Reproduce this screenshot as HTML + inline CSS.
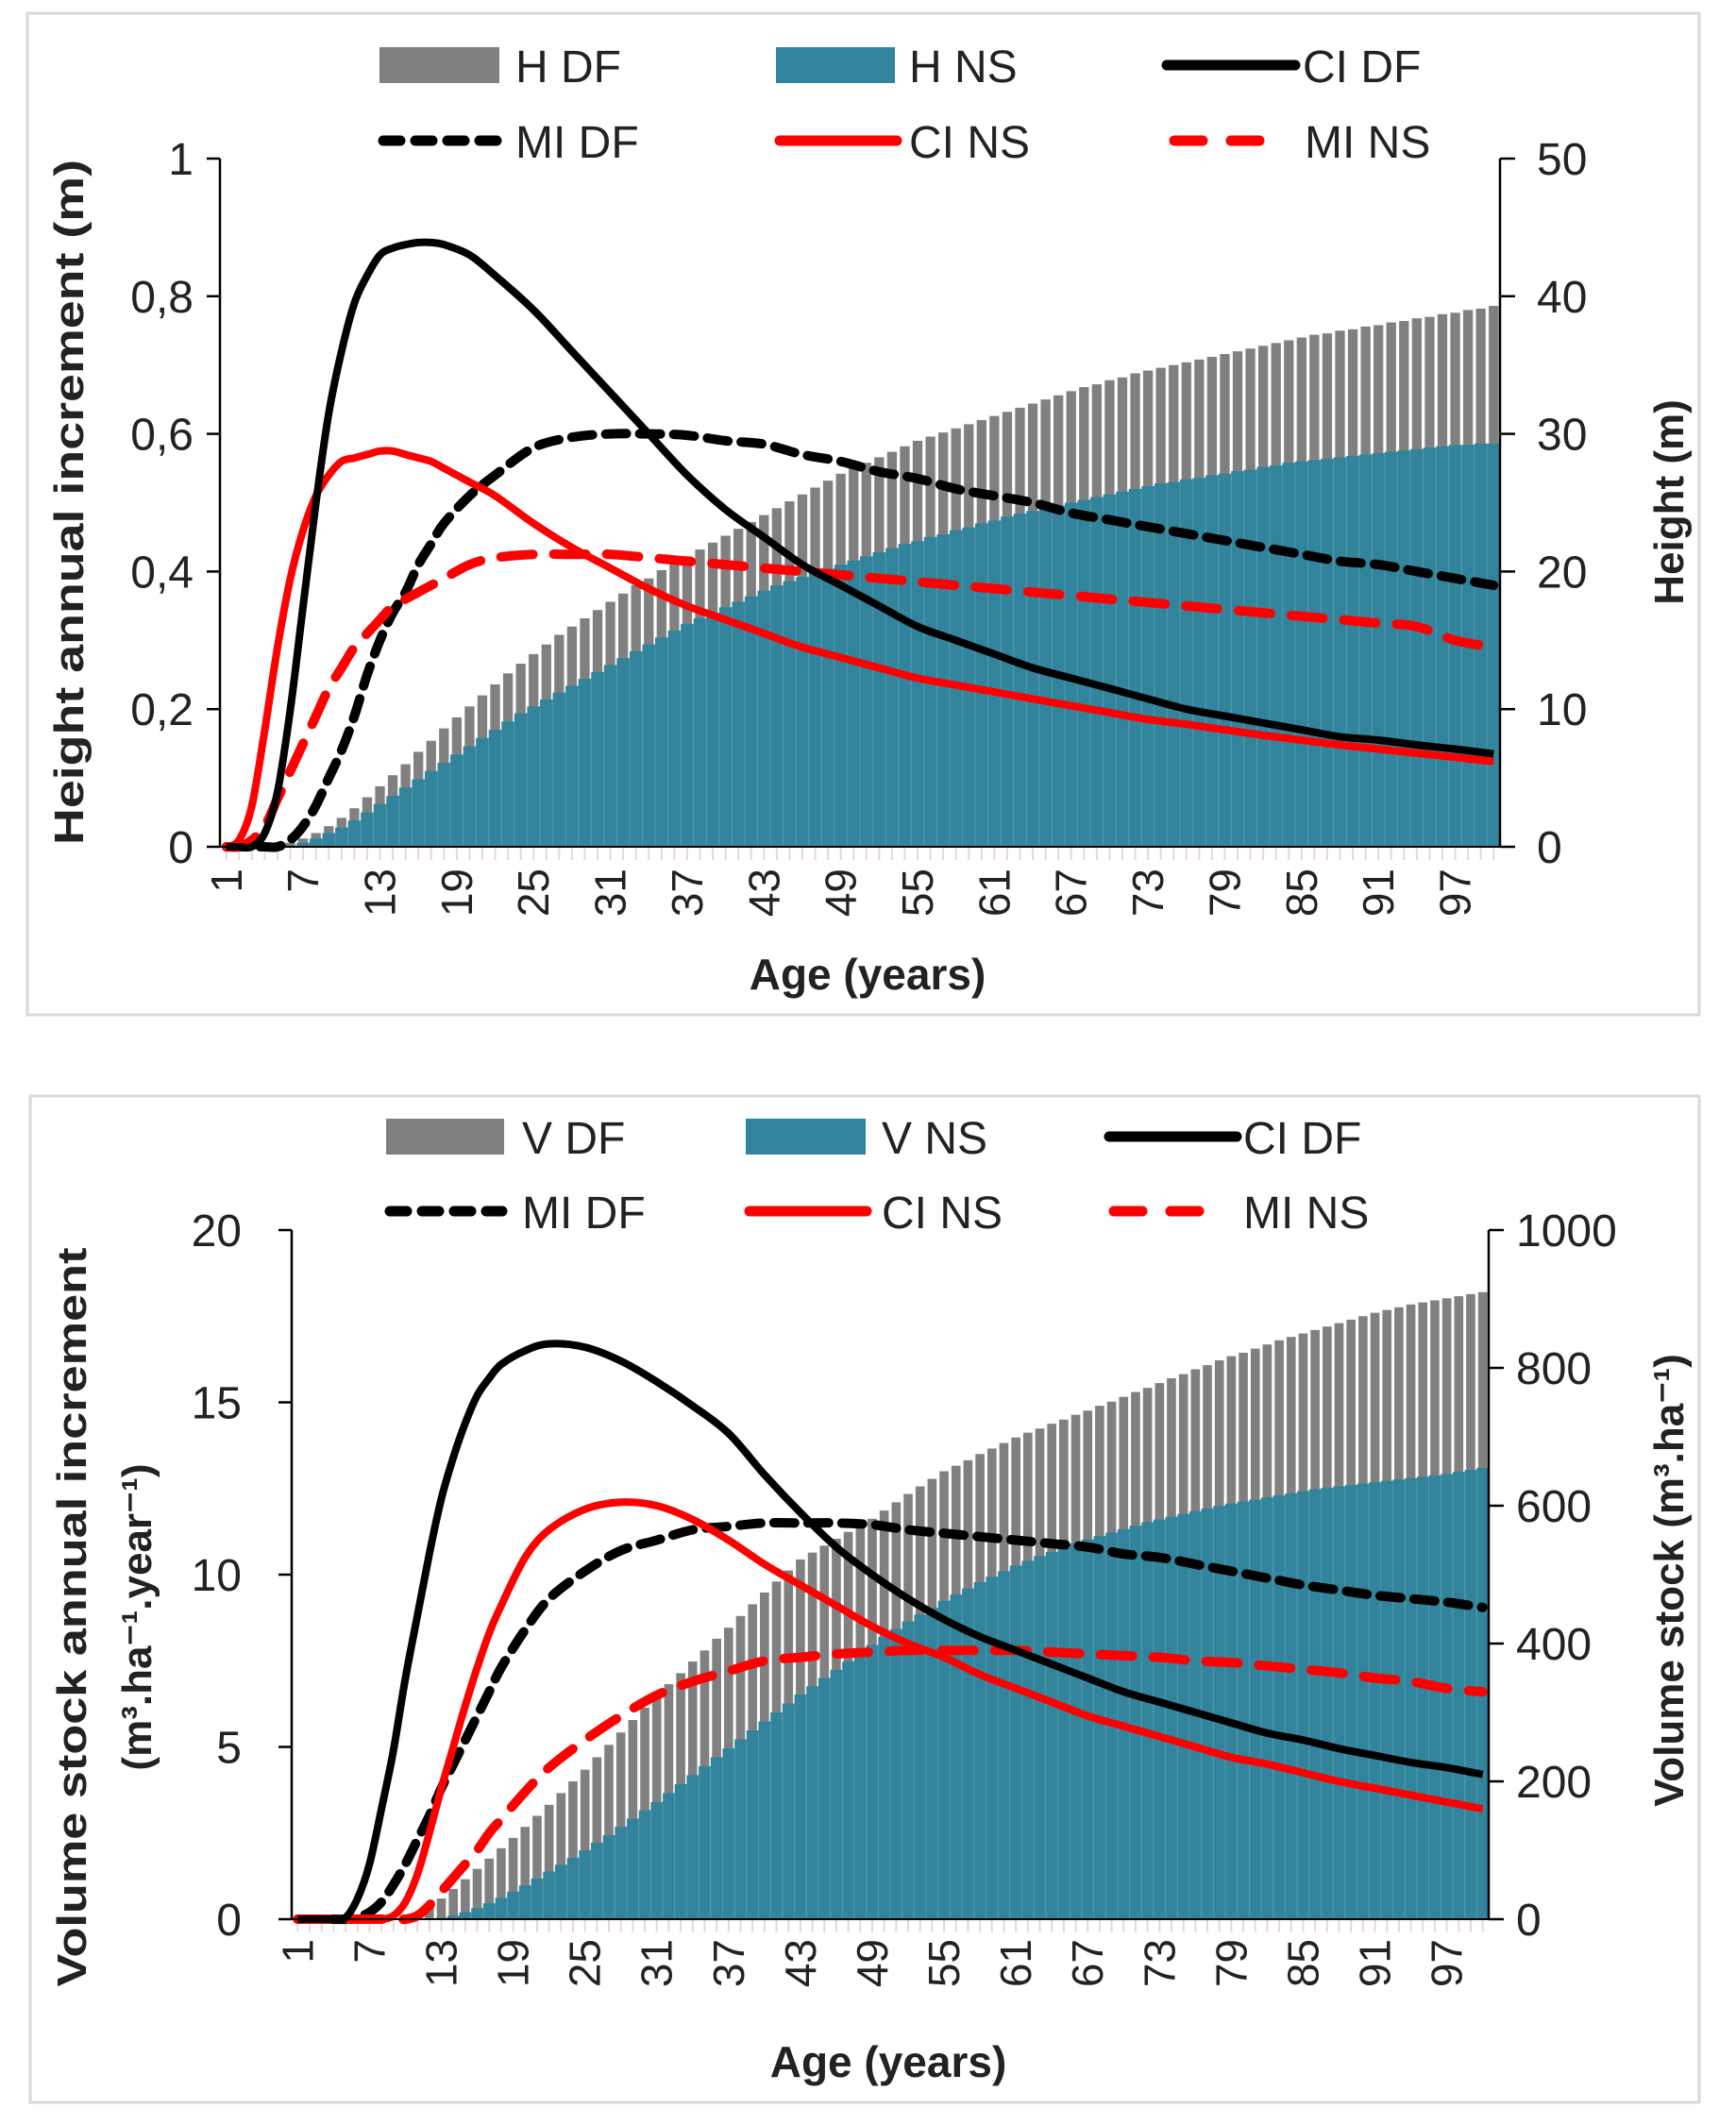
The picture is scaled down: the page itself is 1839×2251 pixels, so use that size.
<!DOCTYPE html>
<html><head><meta charset="utf-8"><style>
html,body{margin:0;padding:0;background:#fff;}
svg{display:block;font-family:"Liberation Sans",sans-serif;}
</style></head><body>
<svg id="fig" width="1839" height="2251" viewBox="0 0 1839 2251">
<rect x="29" y="14" width="1771" height="1061" fill="#fff" stroke="#d9d9d9" stroke-width="3"/>
<rect x="32" y="1161" width="1768" height="1066" fill="#fff" stroke="#d9d9d9" stroke-width="3"/>
<g id="topChart"></g>
<g id="botChart"></g>
</svg>
<script>
// ---------- TOP CHART DATA ----------
const hDF=[0,0,0,0,0.1,0.3,0.6,1.0,1.5,2.1,2.8,3.6,4.4,5.2,6.0,6.9,7.7,8.6,9.4,10.2,11.0,11.8,12.6,13.3,14.0,14.7,15.4,16.0,16.6,17.2,17.8,18.4,19.0,19.5,20.1,20.6,21.1,21.6,22.1,22.6,23.1,23.6,24.1,24.6,25.1,25.6,26.1,26.6,27.1,27.5,27.9,28.3,28.7,29.1,29.5,29.8,30.1,30.4,30.7,31.0,31.3,31.6,31.9,32.2,32.5,32.8,33.1,33.4,33.6,33.9,34.1,34.4,34.6,34.8,35.0,35.2,35.4,35.6,35.8,36.0,36.2,36.4,36.6,36.8,37.0,37.2,37.3,37.5,37.6,37.8,37.9,38.1,38.2,38.4,38.5,38.7,38.8,39.0,39.1,39.3];
const hNS=[0,0,0,0,0,0.1,0.3,0.6,1.0,1.4,1.9,2.5,3.1,3.7,4.3,4.9,5.5,6.1,6.7,7.3,7.9,8.5,9.1,9.7,10.2,10.7,11.2,11.7,12.2,12.7,13.2,13.7,14.2,14.7,15.2,15.7,16.2,16.6,17.0,17.4,17.8,18.2,18.6,19.0,19.3,19.6,19.9,20.2,20.5,20.8,21.1,21.4,21.7,22.0,22.2,22.5,22.7,23.0,23.2,23.5,23.7,24.0,24.2,24.4,24.6,24.8,25.0,25.2,25.4,25.6,25.8,26.0,26.2,26.4,26.5,26.7,26.8,27.0,27.1,27.3,27.4,27.6,27.7,27.9,28.0,28.1,28.2,28.3,28.4,28.5,28.6,28.7,28.8,28.9,29.0,29.1,29.2,29.2,29.3,29.3];
const lineAges=[1,2,3,4,5,6,7,8,9,10,11,12,13,14,15,16,17,18,20,22,25,28,31,34,37,40,43,46,49,52,55,58,61,64,67,70,73,76,79,82,85,88,91,94,97,100];
const ciDF_h=[0,0,0,0.02,0.08,0.2,0.35,0.5,0.63,0.72,0.79,0.83,0.86,0.87,0.875,0.878,0.878,0.875,0.86,0.83,0.78,0.72,0.66,0.6,0.54,0.49,0.45,0.41,0.38,0.35,0.32,0.3,0.28,0.26,0.245,0.23,0.215,0.2,0.19,0.18,0.17,0.16,0.155,0.148,0.142,0.135];
const miDF_h=[0,0,0,0,0,0.01,0.03,0.06,0.1,0.14,0.19,0.25,0.3,0.34,0.37,0.41,0.44,0.47,0.51,0.54,0.58,0.595,0.6,0.6,0.598,0.59,0.585,0.57,0.56,0.545,0.535,0.52,0.51,0.5,0.485,0.475,0.465,0.455,0.445,0.435,0.425,0.415,0.41,0.40,0.39,0.38];
const ciNS_h=[0,0.01,0.06,0.17,0.29,0.39,0.46,0.51,0.54,0.56,0.565,0.57,0.575,0.575,0.57,0.565,0.56,0.55,0.53,0.51,0.47,0.435,0.405,0.375,0.35,0.33,0.31,0.29,0.275,0.26,0.245,0.235,0.225,0.215,0.205,0.195,0.185,0.178,0.17,0.162,0.155,0.148,0.142,0.136,0.13,0.124];
const miNS_h=[0,0,0.01,0.03,0.07,0.11,0.15,0.19,0.23,0.26,0.29,0.31,0.33,0.35,0.36,0.37,0.38,0.39,0.41,0.42,0.425,0.425,0.425,0.42,0.415,0.41,0.405,0.40,0.395,0.39,0.385,0.38,0.375,0.37,0.365,0.36,0.355,0.35,0.345,0.34,0.335,0.33,0.325,0.32,0.30,0.29];
const topLeftTicks=["0","0,2","0,4","0,6","0,8","1"];
const topLeftVals=[0,0.2,0.4,0.6,0.8,1];
const topRightVals=[0,10,20,30,40,50];
// ---------- BOTTOM CHART DATA ----------
const vDF=[0,0,0,0,0,0,0,0,0,2,8,18,30,44,58,73,88,103,118,134,150,166,183,200,217,235,253,271,289,307,325,341,357,374,390,407,423,440,457,474,490,506,522,532,542,552,562,572,581,593,605,617,628,639,650,658,666,675,683,691,699,706,712,719,725,732,738,745,751,758,765,771,778,785,791,798,804,811,817,822,828,834,840,845,850,855,860,865,870,875,880,884,888,892,895,898,901,904,907,910];
const vNS=[0,0,0,0,0,0,0,0,0,0,0,0,2,5,10,16,23,31,40,49,59,69,79,89,100,111,122,134,146,158,170,183,196,209,222,235,248,261,274,287,300,313,326,338,350,362,374,386,398,410,421,432,442,452,462,471,480,489,497,505,513,520,527,533,539,545,551,556,561,566,571,576,580,584,588,592,596,600,603,606,609,612,615,618,621,624,626,628,630,632,634,636,638,640,642,644,646,649,652,655];
const ciDF_v=[0,0,0,0,0.05,0.6,1.6,3.2,4.9,7.0,8.8,10.6,12.2,13.4,14.4,15.2,15.7,16.1,16.5,16.7,16.6,16.2,15.6,14.9,14.1,12.9,11.8,10.8,10.0,9.3,8.7,8.2,7.8,7.4,7.0,6.6,6.3,6.0,5.7,5.4,5.2,4.95,4.75,4.55,4.4,4.2];
const miDF_v=[0,0,0,0,0,0.05,0.2,0.5,1.0,1.6,2.3,3.0,3.8,4.5,5.2,5.9,6.6,7.3,8.4,9.3,10.1,10.7,11.0,11.3,11.4,11.5,11.5,11.5,11.45,11.3,11.2,11.1,11.0,10.9,10.8,10.6,10.5,10.3,10.1,9.9,9.7,9.55,9.4,9.3,9.2,9.05];
const ciNS_v=[0,0,0,0,0,0,0,0,0.1,0.5,1.3,2.5,3.8,5.0,6.2,7.3,8.3,9.1,10.5,11.3,11.9,12.1,12.0,11.6,11.0,10.3,9.7,9.1,8.5,8.0,7.6,7.1,6.7,6.3,5.9,5.6,5.3,5.0,4.7,4.5,4.25,4.0,3.8,3.6,3.4,3.2];
const miNS_v=[0,0,0,0,0,0,0,0,0,0,0.1,0.4,0.8,1.2,1.6,2.0,2.5,2.9,3.7,4.4,5.2,5.9,6.5,6.9,7.2,7.5,7.6,7.7,7.75,7.8,7.8,7.8,7.8,7.75,7.7,7.65,7.6,7.5,7.45,7.35,7.25,7.15,7.0,6.9,6.7,6.6];
const botLeftVals=[0,5,10,15,20];
const botRightVals=[0,200,400,600,800,1000];
const xTickAges=[1,7,13,19,25,31,37,43,49,55,61,67,73,79,85,91,97];

const SVGNS='http://www.w3.org/2000/svg';
function mk(parent,tag,attrs,text){const e=document.createElementNS(SVGNS,tag);for(const k in attrs)e.setAttribute(k,attrs[k]);if(text!==undefined)e.textContent=text;parent.appendChild(e);return e;}

function smoothPath(p){
  let d='M'+p[0][0].toFixed(1)+','+p[0][1].toFixed(1);
  for(let i=0;i<p.length-1;i++){
    const p0=p[Math.max(0,i-1)],p1=p[i],p2=p[i+1],p3=p[Math.min(p.length-1,i+2)];
    const c1x=p1[0]+(p2[0]-p0[0])/6,c1y=p1[1]+(p2[1]-p0[1])/6;
    const c2x=p2[0]-(p3[0]-p1[0])/6,c2y=p2[1]-(p3[1]-p1[1])/6;
    d+=' C'+c1x.toFixed(1)+','+c1y.toFixed(1)+' '+c2x.toFixed(1)+','+c2y.toFixed(1)+' '+p2[0].toFixed(1)+','+p2[1].toFixed(1);
  }
  return d;
}

function chart(g,cfg){
  const L=cfg.L,R=cfg.R,Y0=cfg.Y0,YT=cfg.YT,lmax=cfg.lmax,rmax=cfg.rmax;
  const band=(R-L)/100;
  const xs=a=>L+(a-0.5)*band;
  const yl=v=>Y0-(v/lmax)*(Y0-YT);
  const yr=v=>Y0-(v/rmax)*(Y0-YT);
  cfg.barA.forEach((v,i)=>{
    if(v<=0)return;
    const r=mk(g,'rect',{x:xs(i+1)-band*0.38,y:yr(v),width:band*0.76,height:Y0-yr(v),fill:'#808080'});
    
    
  });
  cfg.barB.forEach((v,i)=>{
    if(v<=0)return;
    const r=mk(g,'rect',{x:xs(i+1)-band*0.5,y:yr(v),width:band*1.0,height:Y0-yr(v),fill:'#31849b'});
    
    
  });
  cfg.barB.forEach((v,i)=>{
    if(v<=0)return;
    const l=mk(g,'line',{x1:xs(i+1)+band*0.5,x2:xs(i+1)+band*0.5,y1:yr(v)+2,y2:Y0,stroke:'#5f9fb0','stroke-width':1.2,opacity:0.6});
    
    
  });
  for(let a=1;a<=100;a++){
    const t=mk(g,'line',{x1:xs(a),x2:xs(a),y1:Y0,y2:Y0+14,stroke:'#e6d8d8','stroke-width':2});
    
    
  }
  const series=[
    {d:cfg.miDF,c:'#000',dash:'22 14',w:10,n:'mi-df-line'},
    {d:cfg.miNS,c:'#ff0000',dash:'34 22',w:10,n:'mi-ns-line'},
    {d:cfg.ciNS,c:'#ff0000',dash:null,w:8,n:'ci-ns-line'},
    {d:cfg.ciDF,c:'#000',dash:null,w:8,n:'ci-df-line'}];
  series.forEach(s=>{
    const pts=s.d.map((v,i)=>[xs(lineAges[i]),yl(v)]);
    const p=mk(g,'path',{d:smoothPath(pts),fill:'none',stroke:s.c,'stroke-width':s.w,'stroke-linejoin':'round','stroke-linecap':s.dash?'round':'butt'});
    if(s.dash)p.setAttribute('stroke-dasharray',s.dash);
    
    
  });
  const ax=mk(g,'line',{x1:L,x2:L,y1:YT,y2:Y0,stroke:'#000','stroke-width':2.5});
  
  const ax2=mk(g,'line',{x1:R,x2:R,y1:YT,y2:Y0,stroke:'#000','stroke-width':2.5});
  
  const ax3=mk(g,'line',{x1:L-14,x2:R+14,y1:Y0,y2:Y0,stroke:'#000','stroke-width':2});
  
  cfg.leftVals.forEach((v,i)=>{
    const t=mk(g,'line',{x1:L-14,x2:L,y1:yl(v),y2:yl(v),stroke:'#000','stroke-width':2.5});
    
    const tx=mk(g,'text',{x:cfg.leftLabX,y:yl(v)+17,'text-anchor':'end','font-size':48,fill:'#222'},cfg.leftLabels[i]);
    
  });
  cfg.rightVals.forEach(v=>{
    const t=mk(g,'line',{x1:R,x2:R+16,y1:yr(v),y2:yr(v),stroke:'#000','stroke-width':2.5});
    
    const tx=mk(g,'text',{x:cfg.rightLabX,y:yr(v)+17,'font-size':48,fill:'#222'},String(v));
    
  });
  xTickAges.forEach(a=>{
    const x=xs(a)+16,y=cfg.xLabTop;
    const tx=mk(g,'text',{x:x,y:y,'text-anchor':'end','font-size':46,fill:'#222',transform:'rotate(-90 '+x+' '+y+')'},String(a));
    
  });
}

function legend(g,rows,items){
  items.forEach(it=>{
    const y=rows[it.row];
    let s;
    if(it.type==='box'){s=mk(g,'rect',{x:it.x1,y:y-19,width:it.x2-it.x1,height:38,fill:it.c});}
    else{s=mk(g,'line',{x1:it.x1,x2:it.x2,y1:y,y2:y,stroke:it.c,'stroke-width':11,'stroke-linecap':'round'});if(it.dash)s.setAttribute('stroke-dasharray',it.dash);}
    
    
    const t=mk(g,'text',{x:it.tx,y:y+18,'font-size':48,fill:'#222'},it.label);
    
    
  });
}

const topG=document.getElementById('topChart');
chart(topG,{L:233,R:1589,Y0:897,YT:168,lmax:1,rmax:50,barA:hDF,barB:hNS,ciDF:ciDF_h,miDF:miDF_h,ciNS:ciNS_h,miNS:miNS_h,leftVals:topLeftVals,leftLabels:topLeftTicks,rightVals:topRightVals,leftLabX:205,rightLabX:1628,xLabTop:920});
legend(topG,[69,149],[
 {row:0,type:'box',x1:402,x2:529,c:'#808080',tx:546,label:'H DF',id:'h-df'},
 {row:0,type:'box',x1:822,x2:948,c:'#31849b',tx:963,label:'H NS',id:'h-ns'},
 {row:0,type:'line',x1:1236,x2:1372,c:'#000',tx:1380,label:'CI DF',id:'ci-df'},
 {row:1,type:'line',x1:406,x2:526,c:'#000',dash:'18 16',tx:546,label:'MI DF',id:'mi-df'},
 {row:1,type:'line',x1:826,x2:950,c:'#ff0000',tx:963,label:'CI NS',id:'ci-ns'},
 {row:1,type:'line',x1:1244,x2:1362,c:'#ff0000',dash:'30 30',tx:1382,label:'MI NS',id:'mi-ns'}]);
let tt;
tt=mk(topG,'text',{x:919,y:1048,'text-anchor':'middle','font-size':46,'font-weight':'bold',fill:'#222'},'Age (years)');

tt=mk(topG,'text',{x:88,y:532,'text-anchor':'middle','font-size':44,'font-weight':'bold',fill:'#222',transform:'rotate(-90 88 532)',textLength:726,lengthAdjust:'spacingAndGlyphs'},'Height annual increment (m)');

tt=mk(topG,'text',{x:1783,y:532,'text-anchor':'middle','font-size':44,'font-weight':'bold',fill:'#222',transform:'rotate(-90 1783 532)'},'Height (m)');


const botG=document.getElementById('botChart');
chart(botG,{L:309,R:1577,Y0:2033,YT:1303,lmax:20,rmax:1000,barA:vDF,barB:vNS,ciDF:ciDF_v,miDF:miDF_v,ciNS:ciNS_v,miNS:miNS_v,leftVals:botLeftVals,leftLabels:botLeftVals.map(String),rightVals:botRightVals,leftLabX:256,rightLabX:1606,xLabTop:2054});
legend(botG,[1204,1283],[
 {row:0,type:'box',x1:409,x2:534,c:'#808080',tx:553,label:'V DF',id:'v-df'},
 {row:0,type:'box',x1:790,x2:917,c:'#31849b',tx:934,label:'V NS',id:'v-ns'},
 {row:0,type:'line',x1:1175,x2:1310,c:'#000',tx:1317,label:'CI DF',id:'ci-df'},
 {row:1,type:'line',x1:413,x2:532,c:'#000',dash:'18 16',tx:553,label:'MI DF',id:'mi-df'},
 {row:1,type:'line',x1:794,x2:918,c:'#ff0000',tx:934,label:'CI NS',id:'ci-ns'},
 {row:1,type:'line',x1:1180,x2:1300,c:'#ff0000',dash:'30 30',tx:1317,label:'MI NS',id:'mi-ns'}]);
tt=mk(botG,'text',{x:941,y:2200,'text-anchor':'middle','font-size':46,'font-weight':'bold',fill:'#222'},'Age (years)');

tt=mk(botG,'text',{x:91,y:1713,'text-anchor':'middle','font-size':44,'font-weight':'bold',fill:'#222',transform:'rotate(-90 91 1713)',textLength:783,lengthAdjust:'spacingAndGlyphs'},'Volume stock  annual increment');

tt=mk(botG,'text',{x:160,y:1713,'text-anchor':'middle','font-size':44,'font-weight':'bold',fill:'#222',transform:'rotate(-90 160 1713)'},'(m³.ha⁻¹.year⁻¹)');

tt=mk(botG,'text',{x:1783,y:1674,'text-anchor':'middle','font-size':44,'font-weight':'bold',fill:'#222',transform:'rotate(-90 1783 1674)'},'Volume stock (m³.ha⁻¹)');

</script>
</body></html>
